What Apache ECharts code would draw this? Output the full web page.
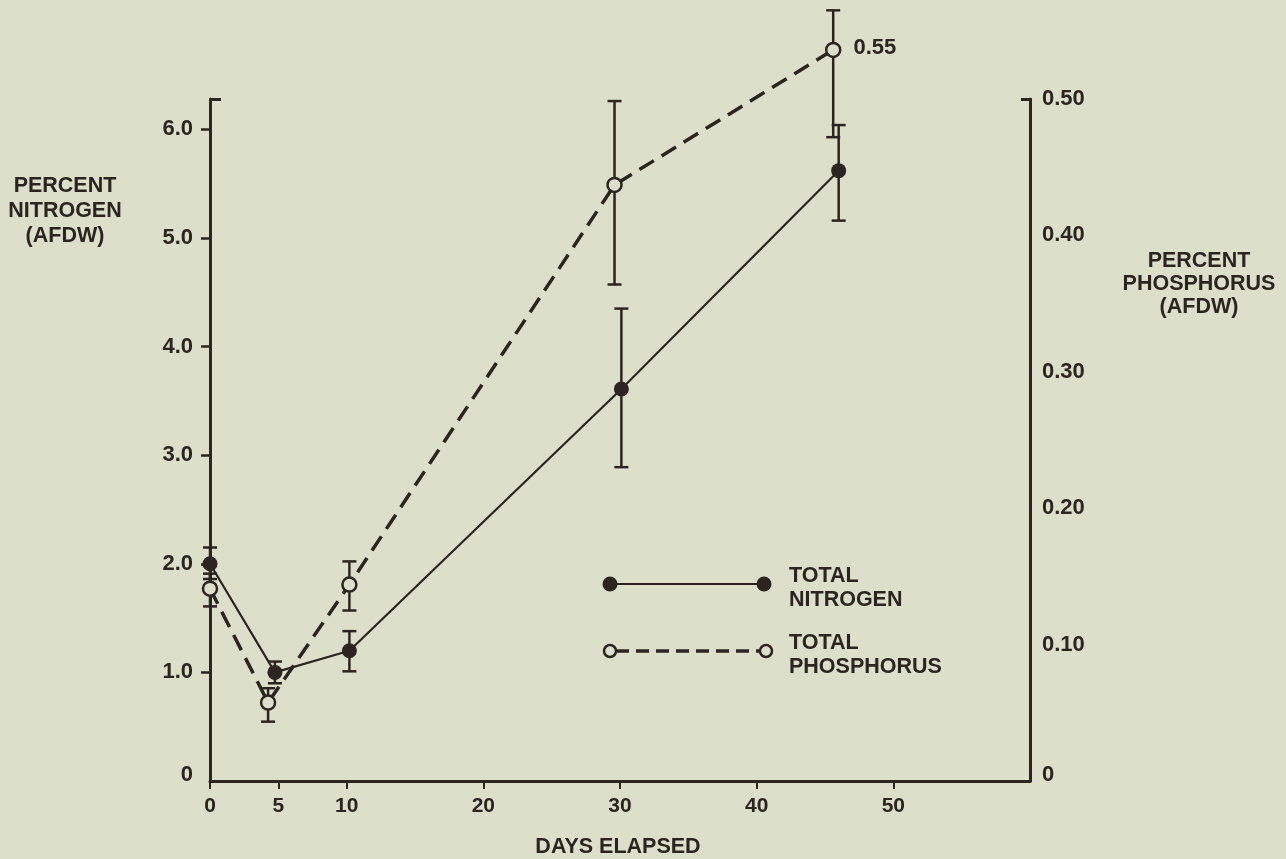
<!DOCTYPE html>
<html>
<head>
<meta charset="utf-8">
<script src="https://cdn.jsdelivr.net/npm/echarts@6/dist/echarts.min.js"></script>
<style>
html,body{margin:0;padding:0;background:#dce0cb;}
#chart{width:1286px;height:859px;}
</style>
</head>
<body>
<div id="chart"></div>
<script>
// ---- data ----
const xTicks = [0, 5, 10, 20, 30, 40, 50];
const leftTicks = [0, 1, 2, 3, 4, 5, 6];
const rightTicks = [0, 0.1, 0.2, 0.3, 0.4, 0.5];

const nDays = [0, 4.75, 10.2, 30.1, 46.0];
const nVal  = [2.0, 1.0, 1.2, 3.61, 5.62];
const nLow  = [1.86, 0.9, 1.01, 2.89, 5.16];
const nHigh = [2.15, 1.1, 1.38, 4.35, 6.04];

const pDays = [0, 4.25, 10.2, 29.6, 45.6];
const pVal  = [0.141, 0.0575, 0.144, 0.437, 0.536];
const pLow  = [0.128, 0.0435, 0.125, 0.364, 0.472];
const pHigh = [0.152, 0.068, 0.161, 0.4985, 0.565];
const pTopLabel = '0.55';

const X_MAX = 60, L_MAX = 6.28, R_MAX = 0.5;
const ink = '#2b2421';
const bg = '#dce0cb';
const F = 'Liberation Sans';

const nData = nDays.map((d, i) => [d, nVal[i]]);
const pData = pDays.map((d, i) => [d, pVal[i]]);
const nErr = nDays.map((d, i) => [d, nLow[i], nHigh[i]]);
const pErr = pDays.map((d, i) => [d, pLow[i], pHigh[i]]);

function errRender(params, api) {
  const x = api.value(0), lo = api.value(1), hi = api.value(2);
  const a = api.coord([x, lo]), b = api.coord([x, hi]);
  const w = 7;
  const st = {stroke: ink, lineWidth: 2.5};
  return {type: 'group', children: [
    {type: 'line', shape: {x1: a[0], y1: a[1], x2: b[0], y2: b[1]}, style: st},
    {type: 'line', shape: {x1: a[0]-w, y1: a[1], x2: a[0]+w, y2: a[1]}, style: st},
    {type: 'line', shape: {x1: b[0]-w, y1: b[1], x2: b[0]+w, y2: b[1]}, style: st}
  ]};
}

const titleFont = 'bold 21.5px "Liberation Sans"';
const zeroRich = {z: {padding: [0, 0, 12, 0], color: ink, fontFamily: F, fontWeight: 'bold', fontSize: 22}};

const chart = echarts.init(document.getElementById('chart'));
const option = {
  backgroundColor: bg,
  animation: false,
  grid: {left: 210, right: 256, top: 99, bottom: 78, containLabel: false},
  xAxis: {
    type: 'value', min: 0, max: X_MAX,
    axisLine: {lineStyle: {color: ink, width: 3}},
    axisTick: {length: 8, lineStyle: {color: ink, width: 2}, customValues: xTicks},
    axisLabel: {customValues: xTicks, color: ink, fontFamily: F, fontWeight: 'bold', fontSize: 21, margin: 15},
    splitLine: {show: false}
  },
  yAxis: [
    {
      type: 'value', min: 0, max: L_MAX, position: 'left',
      axisLine: {show: true, lineStyle: {color: ink, width: 3}},
      axisTick: {show: true, length: 9, lineStyle: {color: ink, width: 2.5}, customValues: leftTicks.slice(1)},
      axisLabel: {customValues: leftTicks, color: ink, fontFamily: F, fontWeight: 'bold', fontSize: 22, margin: 17,
        formatter: v => v === 0 ? '{z|0}' : v.toFixed(1), rich: zeroRich},
      splitLine: {show: false}
    },
    {
      type: 'value', min: 0, max: R_MAX, position: 'right',
      axisLine: {show: true, lineStyle: {color: ink, width: 3}},
      axisTick: {show: false},
      axisLabel: {customValues: rightTicks, color: ink, fontFamily: F, fontWeight: 'bold', fontSize: 22, margin: 12,
        formatter: v => v === 0 ? '{z|0}' : v.toFixed(2), rich: zeroRich},
      splitLine: {show: false}
    },
    {
      type: 'value', min: 0, max: L_MAX, position: 'left',
      axisLine: {show: false},
      axisTick: {show: true, inside: true, length: 11, lineStyle: {color: ink, width: 3}, customValues: [L_MAX]},
      axisLabel: {show: false}, splitLine: {show: false}
    },
    {
      type: 'value', min: 0, max: R_MAX, position: 'right',
      axisLine: {show: false},
      axisTick: {show: true, inside: true, length: 9, lineStyle: {color: ink, width: 3}, customValues: [R_MAX]},
      axisLabel: {show: false}, splitLine: {show: false}
    }
  ],
  series: [
    {
      name: 'TOTAL NITROGEN', type: 'line', yAxisIndex: 0, data: nData, z: 2, clip: false,
      lineStyle: {color: ink, width: 2.2}, showSymbol: false, symbol: 'none'
    },
    {
      name: 'TOTAL PHOSPHORUS', type: 'line', yAxisIndex: 1, data: pData, z: 2, clip: false,
      lineStyle: {color: ink, width: 3.5, type: [17, 9]}, showSymbol: false, symbol: 'none'
    },
    {type: 'custom', yAxisIndex: 0, data: nErr, renderItem: errRender, z: 3, clip: false},
    {type: 'custom', yAxisIndex: 1, data: pErr, renderItem: errRender, z: 3, clip: false},
    {
      type: 'scatter', yAxisIndex: 0, data: nData, z: 5, symbol: 'circle', symbolSize: 15, clip: false,
      itemStyle: {color: ink, opacity: 1}
    },
    {
      type: 'scatter', yAxisIndex: 1, z: 5, symbol: 'circle', symbolSize: 14, clip: false,
      itemStyle: {color: bg, borderColor: ink, borderWidth: 2.5, opacity: 1},
      data: pData.map((p, i) => i === pData.length - 1 ? {
        value: p,
        label: {show: true, position: 'right', distance: 12, formatter: pTopLabel,
          color: ink, fontFamily: F, fontWeight: 'bold', fontSize: 22, offset: [0, -2]}
      } : p)
    }
  ],
  graphic: [
    {type: 'text', x: 65, y: 174, style: {text: 'PERCENT\nNITROGEN\n(AFDW)', fill: ink,
      font: titleFont, align: 'center', verticalAlign: 'top', lineHeight: 25}},
    {type: 'text', x: 1199, y: 250, style: {text: 'PERCENT\nPHOSPHORUS\n(AFDW)', fill: ink,
      font: titleFont, align: 'center', verticalAlign: 'top', lineHeight: 23}},
    {type: 'text', x: 618, y: 847, style: {text: 'DAYS ELAPSED', fill: ink,
      font: titleFont, align: 'center', verticalAlign: 'middle'}},
    // legend
    {type: 'line', shape: {x1: 610, y1: 584, x2: 764, y2: 584}, style: {stroke: ink, lineWidth: 2}},
    {type: 'circle', shape: {cx: 610, cy: 584, r: 7.5}, style: {fill: ink}},
    {type: 'circle', shape: {cx: 764, cy: 584, r: 7.5}, style: {fill: ink}},
    {type: 'text', x: 789, y: 588, style: {text: 'TOTAL\nNITROGEN', fill: ink,
      font: titleFont, align: 'left', verticalAlign: 'middle', lineHeight: 24}},
    {type: 'line', shape: {x1: 616, y1: 651, x2: 760, y2: 651}, style: {stroke: ink, lineWidth: 3.5, lineDash: [13, 7]}},
    {type: 'circle', shape: {cx: 610, cy: 651, r: 6}, style: {fill: bg, stroke: ink, lineWidth: 2.5}},
    {type: 'circle', shape: {cx: 766, cy: 651, r: 6}, style: {fill: bg, stroke: ink, lineWidth: 2.5}},
    {type: 'text', x: 789, y: 655, style: {text: 'TOTAL\nPHOSPHORUS', fill: ink,
      font: titleFont, align: 'left', verticalAlign: 'middle', lineHeight: 24}}
  ]
};
chart.setOption(option);
</script>
</body>
</html>
